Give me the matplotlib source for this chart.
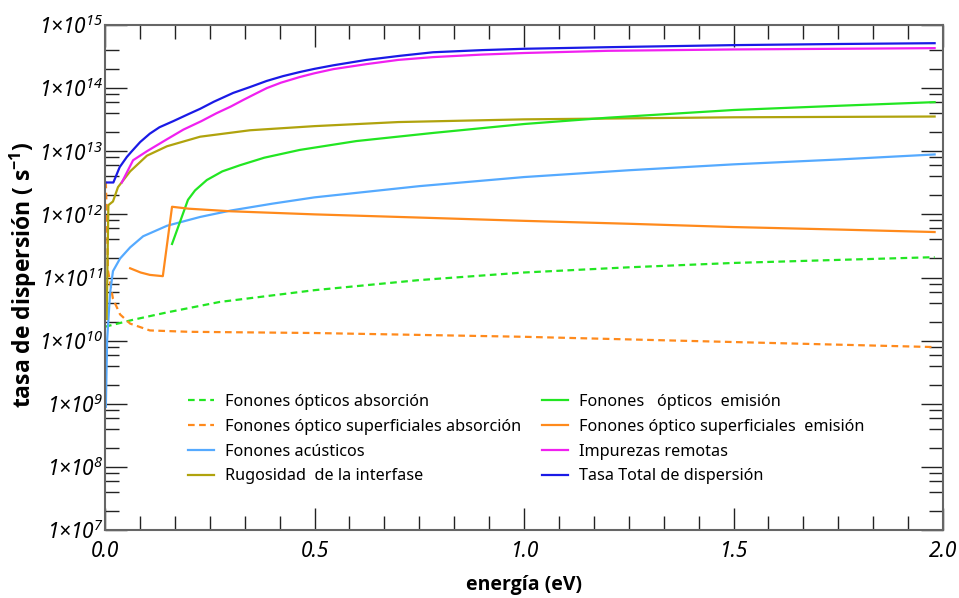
import numpy as np
import matplotlib
matplotlib.use("Agg")
import matplotlib.pyplot as plt
from matplotlib.ticker import FixedLocator, MultipleLocator

plt.rcParams['font.family'] = ['Noto Sans', 'DejaVu Sans']
plt.rcParams['mathtext.fontset'] = 'custom'
plt.rcParams['mathtext.rm'] = 'Noto Sans:italic'
plt.rcParams['mathtext.it'] = 'Noto Sans:italic'
plt.rcParams['mathtext.bf'] = 'Open Sans:bold'

# --- data ---
x_op_abs = [0.0, 0.067, 0.148, 0.274, 0.5, 0.75, 1.0, 1.25, 1.5, 1.75, 1.98]
y_op_abs = [1.66e10, 2.14e10, 2.8e10, 4.1e10, 6.3e10, 9.1e10, 1.2e11, 1.45e11, 1.7e11, 1.9e11, 2.1e11]

x_sop_abs = [0.002, 0.005, 0.007, 0.012, 0.019, 0.036, 0.06, 0.107, 0.2, 0.5, 1.0, 1.5, 1.98]
y_sop_abs = [3.3e12, 6.3e11, 1.3e11, 8.5e10, 4.6e10, 2.6e10, 1.86e10, 1.45e10, 1.38e10,
             1.32e10, 1.15e10, 9.5e9, 7.9e9]

x_ac = [0.002, 0.005, 0.012, 0.019, 0.036, 0.06, 0.091, 0.148, 0.227, 0.3, 0.4, 0.5, 0.75,
        1.0, 1.25, 1.5, 1.75, 1.98]
y_ac = [8.9e8, 1.0e10, 5.6e10, 1.26e11, 2.0e11, 3.0e11, 4.5e11, 6.6e11, 9.1e11, 1.15e12,
        1.48e12, 1.86e12, 2.8e12, 3.9e12, 5.0e12, 6.2e12, 7.4e12, 8.9e12]

x_rug = [0.004, 0.008, 0.019, 0.031, 0.06, 0.1, 0.148, 0.227, 0.346, 0.5, 0.7, 1.0, 1.5, 1.98]
y_rug = [2.2e10, 1.4e12, 1.6e12, 2.7e12, 4.8e12, 8.5e12, 1.2e13, 1.7e13, 2.15e13, 2.5e13,
         2.9e13, 3.2e13, 3.45e13, 3.55e13]

x_op_em = [0.16, 0.179, 0.198, 0.215, 0.243, 0.28, 0.322, 0.38, 0.465, 0.6, 0.783, 1.0,
           1.2, 1.5, 1.75, 1.98]
y_op_em = [3.4e11, 7.6e11, 1.7e12, 2.4e12, 3.5e12, 4.8e12, 6.0e12, 7.9e12, 1.05e13,
           1.45e13, 1.95e13, 2.7e13, 3.4e13, 4.5e13, 5.25e13, 6.0e13]

x_sop_em = [0.06, 0.085, 0.107, 0.138, 0.16, 0.2, 0.3, 0.5, 0.75, 1.0, 1.25, 1.5, 1.75, 1.98]
y_sop_em = [1.4e11, 1.2e11, 1.1e11, 1.05e11, 1.32e12, 1.23e12, 1.12e12, 1.0e12, 8.9e11,
            7.9e11, 7.1e11, 6.3e11, 5.75e11, 5.25e11]

x_imp = [0.04, 0.067, 0.1, 0.148, 0.187, 0.23, 0.266, 0.3, 0.33, 0.36, 0.386, 0.42, 0.465,
         0.5, 0.545, 0.624, 0.7, 0.783, 0.9, 1.0, 1.2, 1.5, 1.75, 1.98]
y_imp = [3.2e12, 7.2e12, 1.0e13, 1.55e13, 2.2e13, 3.0e13, 4.0e13, 5.1e13, 6.5e13, 8.2e13,
         1.0e14, 1.22e14, 1.5e14, 1.72e14, 2.0e14, 2.4e14, 2.8e14, 3.1e14, 3.4e14, 3.6e14,
         3.9e14, 4.1e14, 4.2e14, 4.3e14]

x_tot = [0.0, 0.02, 0.035, 0.052, 0.064, 0.084, 0.107, 0.13, 0.163, 0.2, 0.227, 0.26, 0.306,
         0.346, 0.386, 0.425, 0.465, 0.5, 0.545, 0.624, 0.704, 0.783, 0.9, 1.0, 1.2, 1.5,
         1.75, 1.98]
y_tot = [3.2e12, 3.2e12, 5.6e12, 8.1e12, 1.0e13, 1.4e13, 1.9e13, 2.4e13, 3.0e13, 3.9e13,
         4.7e13, 6.1e13, 8.4e13, 1.04e14, 1.3e14, 1.55e14, 1.8e14, 2.02e14, 2.3e14, 2.8e14,
         3.25e14, 3.7e14, 4.0e14, 4.2e14, 4.45e14, 4.8e14, 5.0e14, 5.15e14]

labels = ['Fonones ópticos absorción',
          'Fonones óptico superficiales absorción',
          'Fonones acústicos',
          'Rugosidad  de la interfase',
          'Fonones   ópticos  emisión',
          'Fonones óptico superficiales  emisión',
          'Impurezas remotas',
          'Tasa Total de dispersión']

fig = plt.figure(figsize=(9.59, 5.98), dpi=100)
ax = fig.add_axes([105/959, 1-530/598, (943-105)/959, (530-25)/598])

lw = 1.6
dash = (3, 2)
ax.plot(x_op_abs, y_op_abs, color='#22e622', lw=lw, dashes=dash, label=labels[0])
ax.plot(x_sop_abs, y_sop_abs, color='#ff8a1c', lw=lw, dashes=dash, label=labels[1])
ax.plot(x_ac, y_ac, color='#55aaff', lw=lw, label=labels[2])
ax.plot(x_rug, y_rug, color='#b0a30d', lw=lw, label=labels[3])
ax.plot(x_op_em, y_op_em, color='#22e622', lw=lw, label=labels[4])
ax.plot(x_sop_em, y_sop_em, color='#ff8a1c', lw=lw, label=labels[5])
ax.plot(x_imp, y_imp, color='#f020f0', lw=lw, label=labels[6])
ax.plot(x_tot, y_tot, color='#1a1ae6', lw=lw, label=labels[7])

ax.set_yscale('log')
ax.set_xlim(0, 2.0)
ax.set_ylim(1e7, 1e15)

ax.xaxis.set_major_locator(FixedLocator([0.0, 0.5, 1.0, 1.5, 2.0]))
ax.xaxis.set_minor_locator(MultipleLocator(0.5/6))
ax.set_xticklabels(['0.0', '0.5', '1.0', '1.5', '2.0'], fontstyle='italic', fontsize=15)

decades = list(range(7, 16))
ax.yaxis.set_major_locator(FixedLocator([10.0**d for d in decades]))
minors = [m*10.0**d for d in decades[:-1] for m in (2, 4, 6, 8)]
minors = [v for v in minors if v < 5e14]
ax.yaxis.set_minor_locator(FixedLocator(minors))
ax.set_yticklabels([r'$1×10^{%d}$' % d for d in decades], fontsize=15)

for s in ax.spines.values():
    s.set_color('#666666')
    s.set_linewidth(1.5)
ax.tick_params(which='both', direction='in', top=True, right=True, color='#222222', width=1.0)
ax.tick_params(which='major', length=16, pad=1)
ax.tick_params(which='minor', length=10)
ax.tick_params(axis='x', which='major', pad=8)

bold = ['Open Sans', 'DejaVu Sans']
ax.set_xlabel('energía (eV)', fontsize=14, fontweight='bold', family=bold, labelpad=9)
ax.set_ylabel(r'tasa de dispersión ( s$^{\mathbf{-1}}$)', fontsize=16.5, fontweight='bold',
              family=bold)
ax.yaxis.set_label_coords(-0.079, 0.505)

ax.legend(ncol=2, loc='upper left', bbox_to_anchor=(0.099, 0.27), frameon=False,
          fontsize=11.7, handlelength=1.6, handletextpad=0.7, columnspacing=1.25,
          labelspacing=0.55, borderaxespad=0, borderpad=0)

fig.savefig('out.png', dpi=100)
